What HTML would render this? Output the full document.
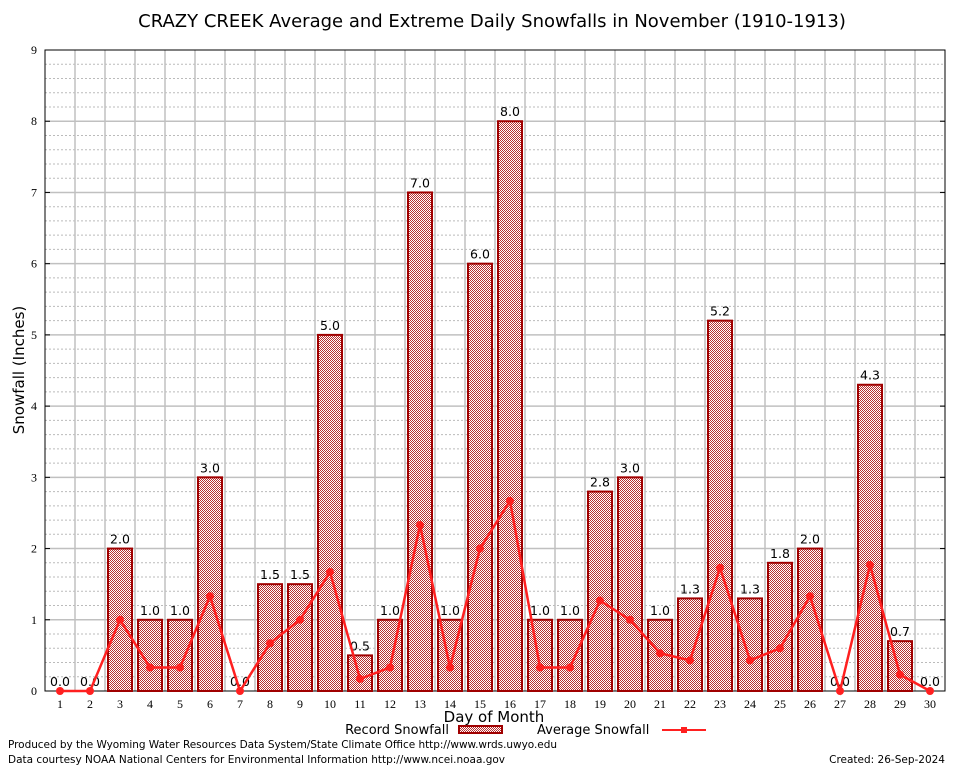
<!DOCTYPE html>
<html><head><meta charset="utf-8"><style>
body{margin:0;background:#fff}
svg{display:block;font-family:"DejaVu Sans","Liberation Sans",sans-serif}
</style></head><body>
<svg id="s" width="954" height="768" xmlns="http://www.w3.org/2000/svg">
<defs>
<pattern id="p" width="2" height="2" patternUnits="userSpaceOnUse">
<rect width="2" height="2" fill="#fff"/><rect width="1" height="1" fill="#b83030"/><rect x="1" y="1" width="1" height="1" fill="#b83030"/>
</pattern>
</defs>
<rect x="0" y="0" width="954" height="768" fill="#fff"/>
<g id="g"></g>
<text x="492" y="27" font-size="18" text-anchor="middle">CRAZY CREEK Average and Extreme Daily Snowfalls in November (1910-1913)</text>
<text x="24" y="370" font-size="15" text-anchor="middle" transform="rotate(-90 24 370)">Snowfall (Inches)</text>
<text x="494" y="722" font-size="15" text-anchor="middle">Day of Month</text>
<text x="449" y="734" font-size="13" text-anchor="end">Record Snowfall</text>
<rect x="459" y="726" width="43" height="7" fill="url(#p)" stroke="#a00000" stroke-width="2"/>
<text x="537" y="734" font-size="13">Average Snowfall</text>
<line x1="662" y1="730" x2="706" y2="730" stroke="#ff2020" stroke-width="2"/>
<rect x="681" y="727" width="6" height="6" fill="#ff2020"/>
<text x="8" y="748" font-size="10.5" textLength="549">Produced by the Wyoming Water Resources Data System/State Climate Office http://www.wrds.uwyo.edu</text>
<text x="8" y="763" font-size="10.5" textLength="497">Data courtesy NOAA National Centers for Environmental Information http://www.ncei.noaa.gov</text>
<text x="945" y="763" font-size="10.5" text-anchor="end">Created:  26-Sep-2024</text>
</svg>
<script>
var rec=[0,0,2,1,1,3,0,1.5,1.5,5,0.5,1,7,1,6,8,1,1,2.8,3,1,1.3,5.2,1.3,1.8,2,0,4.3,0.7,0];
var avg=[0,0,1,0.33,0.33,1.33,0,0.67,1,1.67,0.17,0.33,2.33,0.33,2,2.67,0.33,0.33,1.27,1,0.53,0.43,1.73,0.43,0.6,1.33,0,1.77,0.23,0];
var L=45,R=945,T=50,B=691,u=(B-T)/9,h='';
function X(d){return 60+(d-1)*30}
function Y(v){return B-v*u}
for(var i=1;i<45;i++){if(i%5==0)continue;var y=Y(i/5);h+='<line x1="'+L+'" x2="'+R+'" y1="'+y+'" y2="'+y+'" stroke="#bbb" stroke-width="1" stroke-dasharray="2,2"/>';}
for(var i=1;i<9;i++){var y=Y(i);h+='<line x1="'+L+'" x2="'+R+'" y1="'+y+'" y2="'+y+'" stroke="#c0c0c0" stroke-width="1.5"/>';}
for(var d=1;d<30;d++){var x=X(d)+15;h+='<line y1="'+T+'" y2="'+B+'" x1="'+x+'" x2="'+x+'" stroke="#c0c0c0" stroke-width="1.5"/>';}
h+='<rect x="'+L+'" y="'+T+'" width="'+(R-L)+'" height="'+(B-T)+'" fill="none" stroke="#000"/>';
for(var i=0;i<=9;i++){var y=Y(i);h+='<text x="37" y="'+(y+4)+'" font-size="12" text-anchor="end" font-family="Liberation Serif,serif">'+i+'</text><line x1="'+L+'" x2="'+(L+5)+'" y1="'+y+'" y2="'+y+'" stroke="#000"/><line x1="'+(R-5)+'" x2="'+R+'" y1="'+y+'" y2="'+y+'" stroke="#000"/>';}
for(var d=1;d<=30;d++){var x=X(d),v=rec[d-1];
h+='<text x="'+x+'" y="708" font-size="12" text-anchor="middle" font-family="Liberation Serif,serif">'+d+'</text>';
h+='<line x1="'+x+'" x2="'+x+'" y1="'+B+'" y2="'+(B-4)+'" stroke="#000"/>';
if(v>0)h+='<rect x="'+(x-12)+'" y="'+Y(v)+'" width="24" height="'+(v*u)+'" fill="url(#p)" stroke="#a00000" stroke-width="2"/>';
h+='<text x="'+x+'" y="'+(Y(v)-5)+'" font-size="12.5" text-anchor="middle">'+v.toFixed(1)+'</text>';}
var pts=avg.map(function(v,i){return X(i+1)+','+Y(v)}).join(' ');
h+='<polyline points="'+pts+'" fill="none" stroke="#ff2020" stroke-width="2.5"/>';
avg.forEach(function(v,i){h+='<circle cx="'+X(i+1)+'" cy="'+Y(v)+'" r="4" fill="#ff2020"/>';});
document.getElementById('g').innerHTML=h;
</script>
</body></html>
